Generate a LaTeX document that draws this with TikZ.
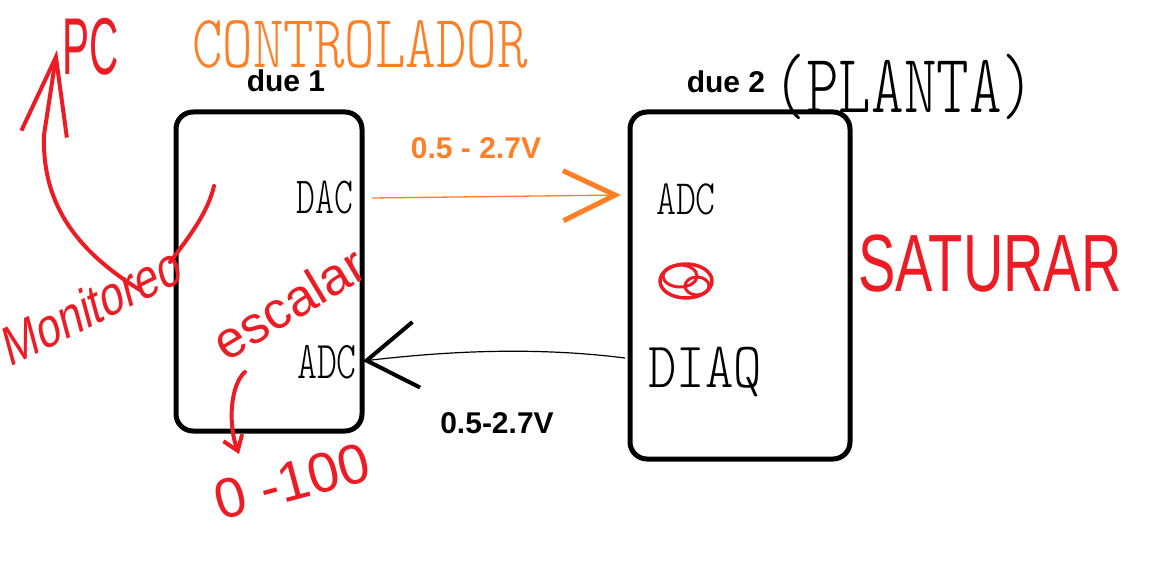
\documentclass[tikz,border=0pt]{standalone}
\usepackage{fontspec}
\setmainfont{Liberation Sans}
\newfontfamily\thinhand{lmmonolt10-regular.otf}
\usetikzlibrary{arrows.meta}
\definecolor{pred}{HTML}{ED1C24}
\definecolor{porange}{HTML}{FF7F27}
\begin{document}
\begin{tikzpicture}[x=1pt,y=-1pt,
  box/.style={draw=black,line width=5pt,rounded corners=17pt,inner sep=0pt},
  title/.style={font=\fontsize{30}{32}\selectfont\bfseries,inner sep=0pt},
  hand/.style={font=\thinhand\fontsize{#1}{#1}\selectfont,inner sep=0pt,transform shape},
  redhand/.style={text=pred,inner sep=0pt,font=\fontsize{#1}{#1}\selectfont,transform shape},
  redline/.style={draw=pred,line width=4pt,line cap=round,line join=round},
]
\fill[white] (0,0) rectangle (1173,588);
\useasboundingbox (0,0) rectangle (1173,588);

% boxes
\node[box,minimum width=186pt,minimum height=319pt] (due1) at (269,271.5) {};
\node[box,minimum width=220pt,minimum height=347pt] (due2) at (740,285.5) {};

% titles
\node[title] (t1) at (286,81) {due 1};
\node[title] (t2) at (726,82) {due 2};
\node[hand=62,yscale=1.35] (planta) at (904,87) {(PLANTA)};
\node[hand=58,yscale=1.3,text=porange] (ctrl) at (360,44) {CONTROLADOR};

% inner labels
\node[hand=36,yscale=1.45] (dac1) at (325,198) {DAC};
\node[hand=38,yscale=1.4] (adc1) at (327,362) {ADC};
\node[hand=38,yscale=1.3] (adc2) at (686,199) {ADC};
\node[hand=54,yscale=1.2] (diaq) at (705,372) {DIAQ};

% voltage labels
\node[title,text=porange] (vo) at (476,148) {0.5 - 2.7V};
\node[title] (vb) at (497,423) {0.5-2.7V};

% orange arrow DAC -> ADC
\coordinate (os) at (372,198);
\coordinate (ot) at (621,195);
\draw[porange,line width=1.3pt,-{Straight Barb[length=52pt,width=50pt,line width=5pt]}] (os) -- (ot);

% black arrow DIAQ -> ADC
\coordinate (bs) at (625,358);
\coordinate (bt) at (363,361);
\draw[black,line width=1.2pt,-{Straight Barb[length=50pt,width=66pt,line width=4pt]}] (bs) .. controls (530,346) and (440,352) .. (bt);

% red annotations
\node[redhand=52,xscale=0.78,yscale=1.55] (pc) at (91,47) {PC};
\node[redhand=56,yscale=1.45] (sat) at (990,264) {SATURAR};
\node[redhand=42,yscale=1.35,rotate=20] (mon) at (92,305) {Monitoreo};
\node[redhand=52,rotate=31] (esc) at (289,303) {escalar};
\node[redhand=56,rotate=15] (zero) at (292,481) {0 -100};

% scribble in due 2
\draw[redline,line width=3.5pt] (686,281) ellipse [x radius=26pt,y radius=17pt];
\draw[redline,line width=3pt] (680,276) ellipse [x radius=17pt,y radius=11pt];
\draw[redline,line width=3pt] (697,286) ellipse [x radius=12pt,y radius=9pt];

% monitoreo curve from inside due 1
\coordinate (mc1) at (214,186);
\coordinate (mc2) at (170,262);
\draw[redline] (mc1) .. controls (208,212) and (190,236) .. (mc2);

% arrow from monitoreo up to PC
\coordinate (pcs) at (140,290);
\coordinate (pct) at (57,50);
\draw[redline,-{Straight Barb[length=78pt,width=46pt]}] (pcs) .. controls (72,248) and (42,200) .. (44,135) -- (pct);

% escalar -> 0-100
\coordinate (es) at (245,372);
\coordinate (et) at (239,454);
\draw[redline,-{Straight Barb[length=14pt,width=20pt]}] (es) .. controls (230,385) and (228,425) .. (et);
\end{tikzpicture}
\end{document}
